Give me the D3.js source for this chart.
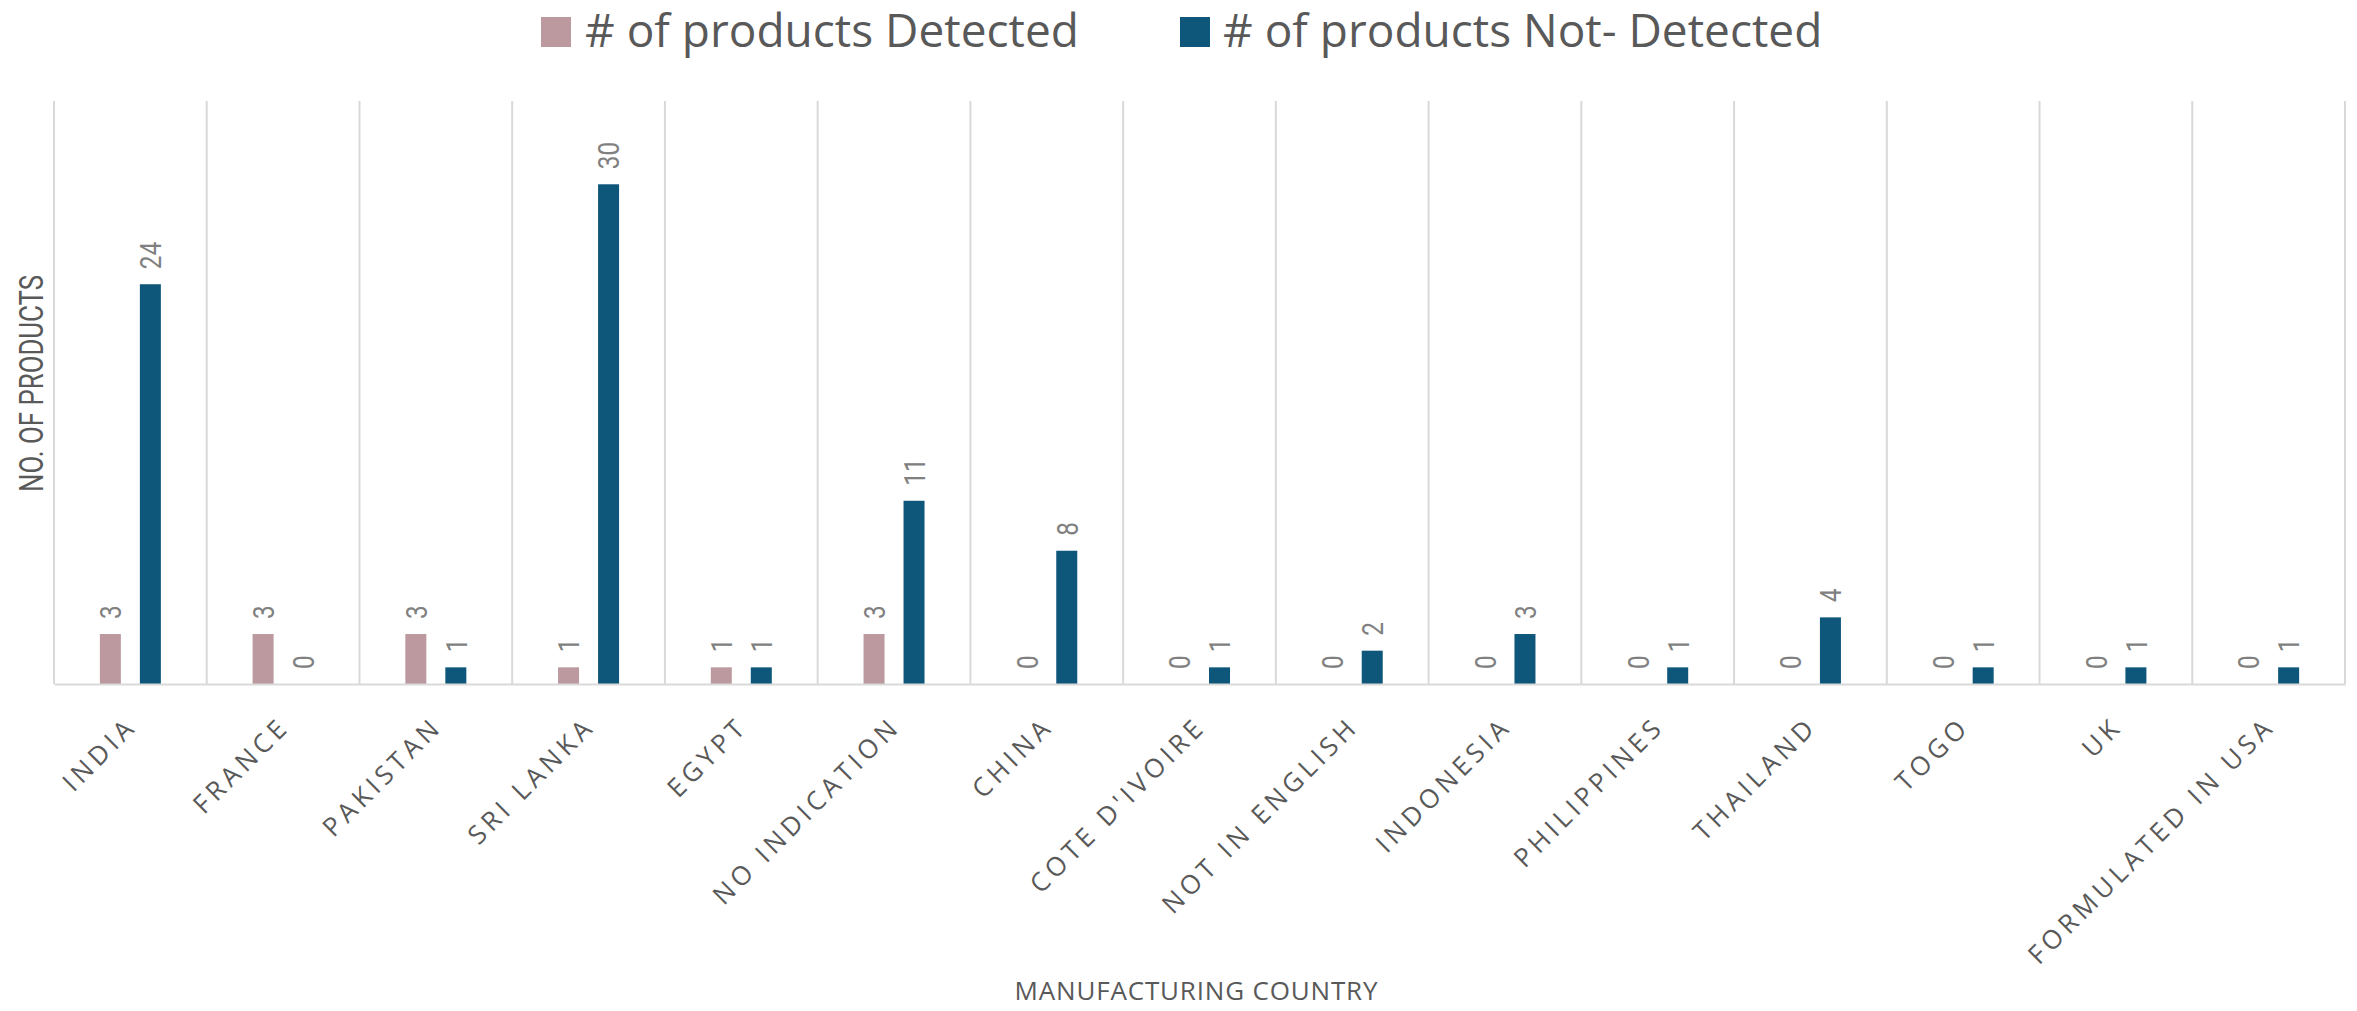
<!DOCTYPE html>
<html>
<head>
<meta charset="utf-8">
<script src="https://cdn.jsdelivr.net/npm/d3@7"></script>
<style>
  html, body { margin: 0; padding: 0; background: #ffffff; }
  svg { display: block; }
</style>
</head>
<body>
<div id="chart"></div>
<script>
// ---- data ----
const categories = ["INDIA", "FRANCE", "PAKISTAN", "SRI LANKA", "EGYPT", "NO INDICATION", "CHINA",
  "COTE D'IVOIRE", "NOT IN ENGLISH", "INDONESIA", "PHILIPPINES", "THAILAND", "TOGO", "UK", "FORMULATED IN USA"];
const detected    = [3, 3, 3, 1, 1, 3, 0, 0, 0, 0, 0, 0, 0, 0, 0];
const notDetected = [24, 0, 1, 30, 1, 11, 8, 1, 2, 3, 1, 4, 1, 1, 1];
const seriesNames = ["# of products Detected", "# of products Not- Detected"];
const yAxisTitle = "NO. OF PRODUCTS";
const xAxisTitle = "MANUFACTURING COUNTRY";
const yMax = 35;

// ---- styles ----
const colors = ["#BB999E", "#0E567A"];
const gridColor = "#d9d9d9";
const textColor = "#595959";
const labelColor = "#808080";
const narrowFont = "'Liberation Sans Narrow', 'Roboto', 'Liberation Sans', sans-serif";
const mainFont = "'Open Sans', 'Noto Sans', sans-serif";

const W = 2357, H = 1011;
const plot = { left: 54, right: 2345, top: 101, bottom: 684 };

const svg = d3.select("#chart").append("svg").attr("width", W).attr("height", H);

const x = d3.scaleBand().domain(categories).range([plot.left, plot.right]).padding(0);
const x1 = d3.scaleBand().domain([0, 1]).range([-30.5, 30.5]).paddingInner(0.475);
const y = d3.scaleLinear().domain([0, yMax]).range([plot.bottom, plot.top]);

const series = [detected, notDetected];

// vertical gridlines at category boundaries
const bounds = categories.map(c => x(c)).concat([x.range()[1]]);
svg.append("g").selectAll("line").data(bounds).join("line")
  .attr("x1", d => d).attr("x2", d => d)
  .attr("y1", y(yMax)).attr("y2", y(0))
  .attr("stroke", gridColor).attr("stroke-width", 2);

// bars
const groups = svg.append("g").selectAll("g").data(categories).join("g")
  .attr("transform", c => `translate(${x(c) + x.bandwidth() / 2},0)`);

groups.selectAll("rect").data((c, ci) => series.map((s, si) => ({ si, v: s[ci] }))).join("rect")
  .attr("x", d => x1(d.si))
  .attr("width", x1.bandwidth())
  .attr("y", d => y(d.v))
  .attr("height", d => y(0) - y(d.v))
  .attr("fill", d => colors[d.si]);

// data labels
groups.selectAll("text").data((c, ci) => series.map((s, si) => ({ si, v: s[ci] }))).join("text")
  .attr("transform", d => `translate(${x1(d.si) + x1.bandwidth() / 2},${y(d.v) - 15}) rotate(-90)`)
  .attr("dy", "0.36em")
  .attr("text-anchor", "start")
  .attr("font-family", narrowFont)
  .attr("font-size", 30)
  .attr("fill", labelColor)
  .attr("textLength", d => String(d.v).length * 13.7)
  .attr("lengthAdjust", "spacingAndGlyphs")
  .text(d => d.v);

// x axis
const xAxis = svg.append("g")
  .attr("transform", `translate(0,${plot.bottom})`)
  .call(d3.axisBottom(x).tickSize(0).tickSizeOuter(0));
xAxis.select(".domain").attr("stroke", gridColor).attr("stroke-width", 2);
xAxis.selectAll(".tick text")
  .attr("x", 0).attr("y", 0).attr("dy", null)
  .attr("text-anchor", "end")
  .attr("transform", "translate(8,44) rotate(-45)")
  .attr("font-family", mainFont)
  .attr("font-size", 26)
  .attr("letter-spacing", "4.5px")
  .attr("fill", textColor);

// y axis title
svg.append("text")
  .attr("transform", `translate(43,383.5) rotate(-90)`)
  .attr("text-anchor", "middle")
  .attr("font-family", narrowFont)
  .attr("font-size", 33)
  .attr("fill", textColor)
  .attr("textLength", 217)
  .attr("lengthAdjust", "spacingAndGlyphs")
  .text(yAxisTitle);

// x axis title
svg.append("text")
  .attr("x", 1196).attr("y", 1000)
  .attr("text-anchor", "middle")
  .attr("font-family", mainFont)
  .attr("font-size", 26)
  .attr("fill", textColor)
  .attr("textLength", 363)
  .attr("lengthAdjust", "spacing")
  .text(xAxisTitle);

// legend
const legendX = [541, 1180];
const legendTextX = [585, 1223];
const legend = svg.append("g").selectAll("g").data(seriesNames).join("g");
legend.append("rect")
  .attr("x", (d, i) => legendX[i]).attr("y", 17)
  .attr("width", 30).attr("height", 30)
  .attr("fill", (d, i) => colors[i]);
legend.append("text")
  .attr("x", (d, i) => legendTextX[i]).attr("y", 47)
  .attr("font-family", mainFont)
  .attr("font-size", 46)
  .attr("fill", textColor)
  .text(d => d);
</script>
</body>
</html>
